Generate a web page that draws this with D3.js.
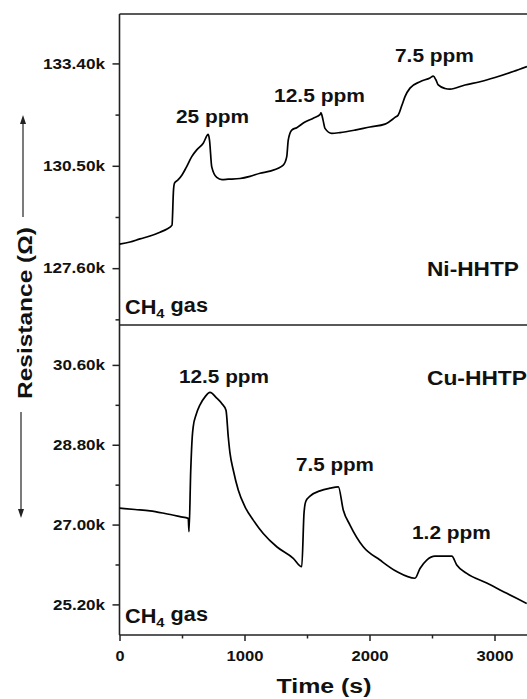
<!DOCTYPE html>
<html>
<head>
<meta charset="utf-8">
<script src="https://cdn.jsdelivr.net/npm/d3@7/dist/d3.min.js"></script>
<style>
  html, body { margin: 0; padding: 0; background: #fff; }
  svg { display: block; }
  text { font-family: "Liberation Sans", Arial, sans-serif; font-weight: bold; fill: #111; }
</style>
</head>
<body>
<script>
// ---------------- data ----------------
// Ni-HHTP (top panel) : time (s), resistance (kΩ)
const niTime = [0, 84, 164, 244, 324, 380, 420, 432, 440, 468, 500, 532, 578, 618, 670, 710, 720, 738, 778, 820, 870, 964, 1044, 1124, 1204, 1310, 1338, 1350, 1378, 1418, 1484, 1550, 1604, 1612, 1628, 1644, 1698, 1764, 1884, 2004, 2124, 2204, 2230, 2260, 2284, 2324, 2404, 2484, 2510, 2532, 2550, 2604, 2644, 2764, 2884, 3004, 3150, 3260];
const niRes = [128.28, 128.34, 128.43, 128.51, 128.62, 128.71, 128.82, 129.81, 130.01, 130.10, 130.24, 130.44, 130.76, 130.95, 131.14, 131.39, 131.23, 130.47, 130.17, 130.11, 130.12, 130.14, 130.20, 130.29, 130.35, 130.52, 130.76, 131.23, 131.51, 131.58, 131.74, 131.85, 131.95, 132.00, 131.80, 131.56, 131.42, 131.44, 131.51, 131.60, 131.68, 131.87, 131.94, 132.22, 132.46, 132.70, 132.88, 132.99, 133.04, 132.93, 132.79, 132.69, 132.67, 132.79, 132.88, 133.00, 133.17, 133.31];

// Cu-HHTP (bottom panel) : time (s), resistance (kΩ)
const cuTime = [0, 124, 244, 364, 484, 550, 556, 570, 582, 590, 612, 644, 684, 724, 778, 818, 852, 870, 884, 910, 950, 1004, 1070, 1150, 1258, 1390, 1458, 1476, 1490, 1524, 1604, 1684, 1751, 1790, 1844, 1950, 2084, 2218, 2364, 2404, 2458, 2524, 2658, 2698, 2778, 2938, 3098, 3258];
const cuRes = [27.37, 27.34, 27.31, 27.25, 27.18, 27.14, 26.84, 28.23, 28.98, 29.21, 29.47, 29.70, 29.88, 29.98, 29.85, 29.73, 29.58, 28.98, 28.61, 28.23, 27.78, 27.40, 27.10, 26.80, 26.50, 26.24, 26.05, 27.25, 27.52, 27.64, 27.76, 27.82, 27.85, 27.33, 26.99, 26.50, 26.20, 25.94, 25.79, 26.01, 26.20, 26.29, 26.29, 26.09, 25.90, 25.68, 25.45, 25.22];

// ticks
const xMajorTicks = [0, 1000, 2000, 3000];
const xMinorTicks = [500, 1500, 2500];
const niMajorTicks = [127.60, 130.50, 133.40];
const niMinorTicks = [126.15, 129.05, 131.95];
const cuMajorTicks = [25.20, 27.00, 28.80, 30.60];
const cuMinorTicks = [26.10, 27.90, 29.70];

// annotations
const niAnnot = ["25 ppm", "12.5 ppm", "7.5 ppm"];
const cuAnnot = ["12.5 ppm", "7.5 ppm", "1.2 ppm"];

// ---------------- layout ----------------
const W = 527, H = 699;
const padL = 119.5, padT = 14, padMid = 325, padB = 635;

const svg = d3.select("body").append("svg").attr("width", W).attr("height", H);

const x = d3.scaleLinear().domain([0, 3260]).range([padL, 527]);
const yNi = d3.scaleLinear().domain([125.99, 134.80]).range([padMid, padT]);
const yCu = d3.scaleLinear().domain([24.51, 31.50]).range([padB, padMid]);

const fmt = v => v.toFixed(2) + "k";

function fitTicks(g, w) {
  g.selectAll(".tick text").each(function () {
    const t = d3.select(this);
    t.attr("textLength", typeof w === "function" ? w(t.text()) : w)
     .attr("lengthAdjust", "spacingAndGlyphs");
  });
}

function styleAxis(g) {
  g.select(".domain").remove();
  g.selectAll(".tick line").attr("stroke", "#222").attr("stroke-width", 1.5);
  g.selectAll(".tick text")
    .attr("font-family", "'Liberation Sans', Arial, sans-serif")
    .attr("font-weight", "bold").attr("font-size", 15).attr("fill", "#111");
}

// y axes (top)
const gNiMaj = svg.append("g").attr("transform", `translate(${padL},0)`)
  .call(d3.axisLeft(yNi).tickValues(niMajorTicks).tickFormat(fmt).tickSize(7).tickPadding(7.5));
styleAxis(gNiMaj); fitTicks(gNiMaj, 62);
const gNiMin = svg.append("g").attr("transform", `translate(${padL},0)`)
  .call(d3.axisLeft(yNi).tickValues(niMinorTicks).tickFormat("").tickSize(4));
styleAxis(gNiMin);

// y axes (bottom)
const gCuMaj = svg.append("g").attr("transform", `translate(${padL},0)`)
  .call(d3.axisLeft(yCu).tickValues(cuMajorTicks).tickFormat(fmt).tickSize(7).tickPadding(7.5));
styleAxis(gCuMaj); fitTicks(gCuMaj, 52);
const gCuMin = svg.append("g").attr("transform", `translate(${padL},0)`)
  .call(d3.axisLeft(yCu).tickValues(cuMinorTicks).tickFormat("").tickSize(4));
styleAxis(gCuMin);

// x axis
const gXMaj = svg.append("g").attr("transform", `translate(0,${padB})`)
  .call(d3.axisBottom(x).tickValues(xMajorTicks).tickFormat(d3.format("d")).tickSize(6).tickPadding(9));
styleAxis(gXMaj); fitTicks(gXMaj, s => s.length === 1 ? 9 : 37);
const gXMin = svg.append("g").attr("transform", `translate(0,${padB})`)
  .call(d3.axisBottom(x).tickValues(xMinorTicks).tickFormat("").tickSize(3.5));
styleAxis(gXMin);

// frame lines
const frame = svg.append("g").attr("stroke", "#222").attr("stroke-width", 1.6).attr("fill", "none");
frame.append("line").attr("x1", padL).attr("x2", padL).attr("y1", padT).attr("y2", padB);
frame.append("line").attr("x1", padL).attr("x2", W).attr("y1", padT).attr("y2", padT);
frame.append("line").attr("x1", padL).attr("x2", W).attr("y1", padMid).attr("y2", padMid);
frame.append("line").attr("x1", padL).attr("x2", W).attr("y1", padB).attr("y2", padB);

// data lines
const lineNi = d3.line().x((d, i) => x(niTime[i])).y(d => yNi(d)).curve(d3.curveMonotoneX);
const lineCu = d3.line().x((d, i) => x(cuTime[i])).y(d => yCu(d)).curve(d3.curveMonotoneX);
svg.append("path").datum(niRes).attr("d", lineNi)
  .attr("fill", "none").attr("stroke", "#000").attr("stroke-width", 1.7).attr("stroke-linejoin", "round");
svg.append("path").datum(cuRes).attr("d", lineCu)
  .attr("fill", "none").attr("stroke", "#000").attr("stroke-width", 1.7).attr("stroke-linejoin", "round");

// text helper: place text, then stretch horizontally to target width
function label(px, py, w, fs, build, anchor) {
  const g = svg.append("g");
  const t = g.append("text").attr("font-size", fs).attr("text-anchor", anchor || "start");
  build(t);
  const bw = t.node().getBBox().width;
  const sx = w / bw;
  g.attr("transform", `translate(${px},${py}) scale(${sx},1)`);
  return g;
}
const plain = s => t => t.text(s);
const ch4 = t => {
  t.append("tspan").text("CH");
  t.append("tspan").text("4").attr("font-size", "0.68em").attr("dy", "0.3em");
  t.append("tspan").text(" gas").attr("dy", "-0.3em");
};

// top panel annotations
label(176, 123, 73, 18.5, plain(niAnnot[0]));
label(274, 102, 91, 18.5, plain(niAnnot[1]));
label(395, 62, 79, 18.5, plain(niAnnot[2]));
label(427, 276, 92, 21, plain("Ni-HHTP"));
label(125, 314, 83, 20, ch4);

// bottom panel annotations
label(179, 383, 90, 18.5, plain(cuAnnot[0]));
label(296, 471, 78, 18.5, plain(cuAnnot[1]));
label(412, 539, 79, 18.5, plain(cuAnnot[2]));
label(427, 385, 100, 21, plain("Cu-HHTP"));
label(125, 623, 83, 20, ch4);

// axis titles
label(324, 693, 95, 21, plain("Time (s)"), "middle");
{
  const g = svg.append("g");
  const t = g.append("text").attr("font-size", 21).attr("text-anchor", "middle").text("Resistance (Ω)");
  const bw = t.node().getBBox().width;
  g.attr("transform", `translate(32,313) rotate(-90) scale(${172 / bw},1)`);
}

// arrows
const arr = svg.append("g").attr("stroke", "#222").attr("stroke-width", 1.2);
arr.append("line").attr("x1", 23).attr("x2", 23).attr("y1", 217).attr("y2", 122);
svg.append("path").attr("d", "M23,115 L20,124 L26,124 Z").attr("fill", "#222");
arr.append("line").attr("x1", 21).attr("x2", 21).attr("y1", 412).attr("y2", 511);
svg.append("path").attr("d", "M21,518 L18,509 L24,509 Z").attr("fill", "#222");
</script>
</body>
</html>
